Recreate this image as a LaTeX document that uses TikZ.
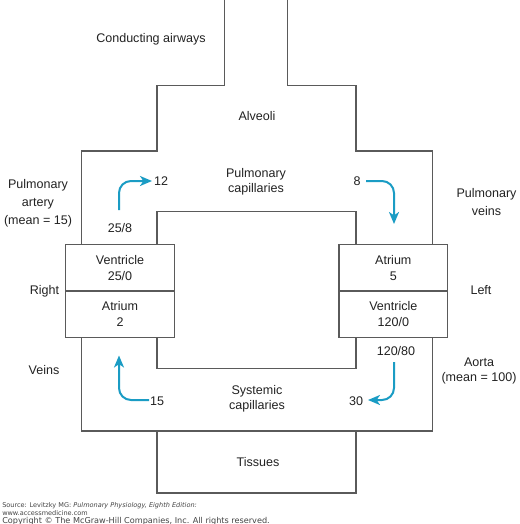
\documentclass[tikz,border=0pt]{standalone}
\usepackage{fontspec}
\setmainfont{Liberation Sans}
\newfontfamily\srcfont{DejaVu Sans}
\usetikzlibrary{arrows.meta}
\definecolor{linegray}{HTML}{5A5A5A}
\definecolor{flowblue}{HTML}{1A9CC4}
\definecolor{txt}{HTML}{222222}
\definecolor{srcgray}{HTML}{444444}
\begin{document}
\begin{tikzpicture}[x=0.75pt,y=-0.75pt,
  wall/.style={draw=linegray,line width=0.8pt},
  lbl/.style={text=txt,font=\fontsize{9.4}{11.25}\selectfont,align=center,inner sep=0pt},
  lbltall/.style={lbl,font=\fontsize{9.4}{13.5}\selectfont},
  flow/.style={draw=flowblue,line width=1.5pt,rounded corners=9pt,-{Stealth[length=9pt,width=7.5pt,inset=2.5pt]}},
  chamber/.style={draw=linegray,line width=0.8pt,fill=white,minimum width=81.5pt,minimum height=34.9pt,inner sep=0pt,text=txt,font=\fontsize{9.4}{12}\selectfont,align=center},
  src/.style={text=srcgray,font=\srcfont\fontsize{4.9}{5.8}\selectfont,inner sep=0pt,anchor=base west},
  srcbig/.style={src,font=\srcfont\fontsize{6.1}{7}\selectfont}
]
\useasboundingbox (0,0) rectangle (520,524);
\fill[white] (0,0) rectangle (520,524);

% walls
\draw[wall] (224.3,0) -- (224.3,85.7) -- (157,85.7) -- (157,151) -- (81.7,151) -- (81.7,244);
\draw[wall] (287.3,0) -- (287.3,85.7) -- (356,85.7) -- (356,151) -- (432.7,151) -- (432.7,244);
\draw[wall] (157,244) -- (157,211.7) -- (356,211.7) -- (356,244);
\draw[wall] (81.7,337.3) -- (81.7,431) -- (432.7,431) -- (432.7,337.3);
\draw[wall] (157,337.3) -- (157,368.3) -- (356,368.3) -- (356,337.3);
\draw[wall] (157,431) -- (157,493) -- (356,493) -- (356,431);

% heart chambers
\node[chamber] (rv) at (120,267.7) {Ventricle\\25/0};
\node[chamber] (ra) at (120,314.3) {Atrium\\2};
\node[chamber] (la) at (393.3,267.7) {Atrium\\5};
\node[chamber] (lv) at (393.3,314.3) {Ventricle\\120/0};

% labels
\node[lbl] (cond) at (151,39) {Conducting airways};
\node[lbl] (alv) at (257,116) {Alveoli};
\node[lbl] (pcap) at (256,182) {Pulmonary\\capillaries};
\node[lbltall] (part) at (38,203) {Pulmonary\\artery\\(mean = 15)};
\node[lbltall] (pvein) at (486.5,202) {Pulmonary\\veins};
\node[lbl] (right) at (44.5,291) {Right};
\node[lbl] (left) at (481,290) {Left};
\node[lbl] (veins) at (44,370) {Veins};
\node[lbl] (aorta) at (479,371) {Aorta\\(mean = 100)};
\node[lbl] (scap) at (257,398.5) {Systemic\\capillaries};
\node[lbl] (tis) at (258,462) {Tissues};

% pressure labels
\node[lbl] (p258) at (120,228) {25/8};
\node[lbl] (p12) at (161,181) {12};
\node[lbl] (p8) at (357,181) {8};
\node[lbl] (p15) at (157,401) {15};
\node[lbl] (p12080) at (396,351) {120/80};
\node[lbl] (p30) at (356,401) {30};

% flow arrows
\coordinate (a1s) at (119,210); \coordinate (a1e) at (152,181);
\coordinate (a2s) at (366,181); \coordinate (a2e) at (394,224);
\coordinate (a3s) at (149,400); \coordinate (a3e) at (119,355.5);
\coordinate (a4s) at (394,362); \coordinate (a4e) at (368,400);
\draw[flow] (a1s) |- (a1e);
\draw[flow] (a2s) -| (a2e);
\draw[flow] (a3s) -| (a3e);
\draw[flow] (a4s) |- (a4e);

% source
\node[src] (s1) at (2,507) {Source: Levitzky MG: \textit{Pulmonary Physiology, Eighth Edition:}};
\node[src] (s2) at (2,515) {www.accessmedicine.com};
\node[srcbig] (s3) at (2,523.5) {Copyright \textcopyright{} The McGraw-Hill Companies, Inc. All rights reserved.};
\end{tikzpicture}
\end{document}
